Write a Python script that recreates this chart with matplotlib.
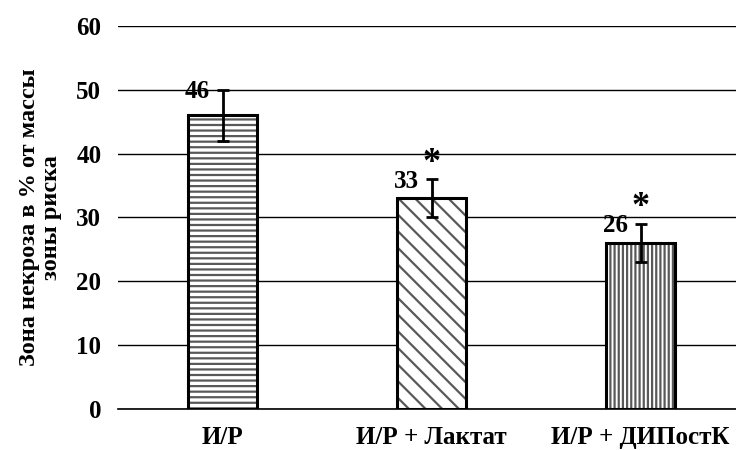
import matplotlib
matplotlib.use("Agg")
import matplotlib.pyplot as plt

categories = ["И/Р", "И/Р + Лактат", "И/Р + ДИПостК"]
values = [46, 33, 26]
errors = [4, 3, 3]
labels = ["46", "33", "26"]
stars = ["", "*", "*"]
hatches = ["---", "\\\\", "||||"]

plt.rcParams['font.family'] = ['Liberation Serif', 'DejaVu Serif']
plt.rcParams['font.weight'] = 'bold'
plt.rcParams['hatch.linewidth'] = 1.6

fig = plt.figure(figsize=(7.36, 4.5), dpi=100)
ax = fig.add_axes([118/736, 1 - 409/450, (745 - 118)/736, (409 - 26)/450])

x = list(range(len(categories)))
ax.set_ylim(0, 60)
ax.set_xlim(-0.5, 2.5)
ax.set_yticks(range(0, 61, 10))
ax.yaxis.grid(True, color='black', linewidth=1)
ax.set_axisbelow(True)
for s in ax.spines.values():
    s.set_visible(False)
ax.spines['bottom'].set_visible(True)
ax.spines['bottom'].set_linewidth(1.2)
ax.tick_params(axis='y', length=0, labelsize=18, pad=12)
ax.tick_params(axis='x', length=0, labelsize=18, pad=12)

bars = ax.bar(x, values, width=0.33, color='white', edgecolor='black',
              linewidth=2.2, zorder=3)
for b, h in zip(bars, hatches):
    b.set_hatch(h)
    b._hatch_color = (0.35, 0.35, 0.35, 1)

ax.errorbar(x, values, yerr=errors, fmt='none', ecolor='black',
            elinewidth=2, capsize=4, capthick=2, zorder=4)

ax.set_xticks(x)
ax.set_xticklabels(categories)
for lbl in ax.get_yticklabels() + ax.get_xticklabels():
    lbl.set_fontweight('bold')

for xi, v, e, lab, st in zip(x, values, errors, labels, stars):
    ax.text(xi - 0.12, v + e - 0.3, lab, ha='center', va='center',
            fontsize=18, fontweight='bold', zorder=5)
    if st:
        ax.text(xi, v + e + 2.5, st, ha='center', va='center',
                fontsize=26, fontweight='bold', zorder=5)

ax.set_ylabel("Зона некроза в % от массы\nзоны риска", fontsize=17.5,
              fontweight='bold', labelpad=10, linespacing=1.1)

fig.savefig("out.png", dpi=100)
